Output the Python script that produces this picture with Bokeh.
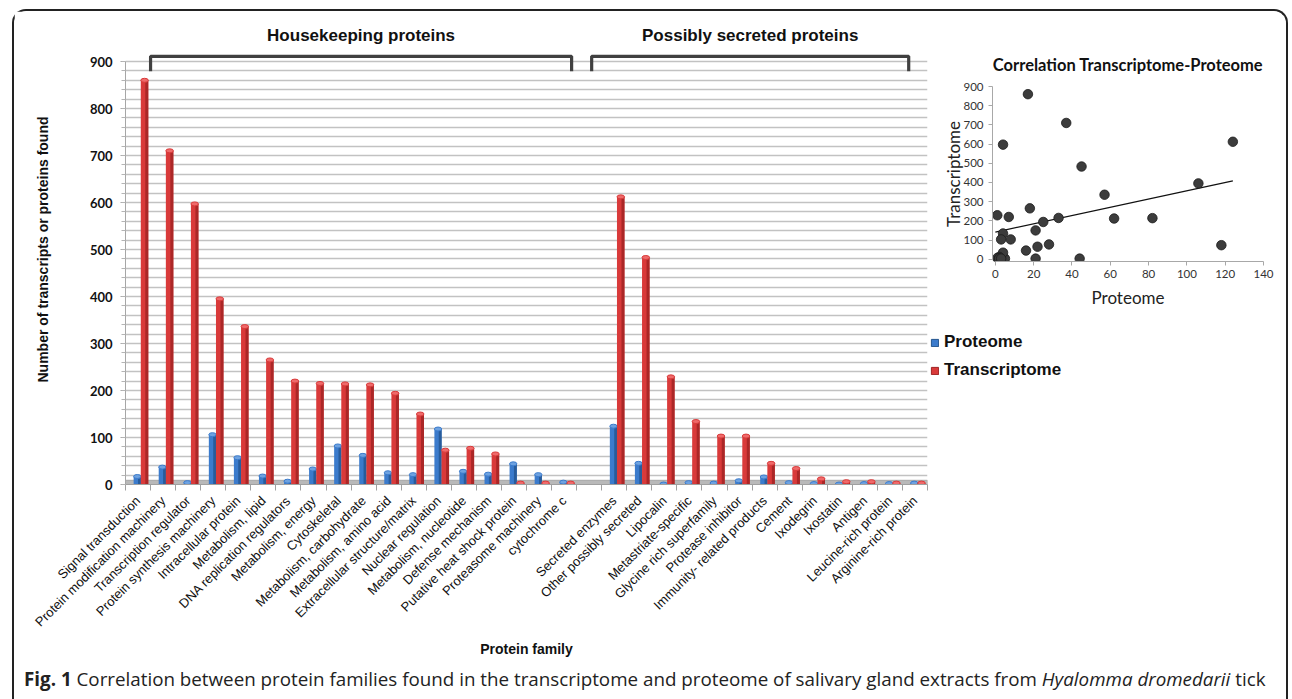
import numpy as np
from bokeh.plotting import figure
from bokeh.models import FixedTicker, Legend, LegendItem, Div, ColumnDataSource, Range1d
from bokeh.layouts import row, column
from bokeh.transform import dodge
from bokeh.embed import file_html
from bokeh.resources import INLINE
from bokeh.core.properties import value

# ---------------- data ----------------
housekeeping = [
    "Signal transduction", "Protein modification machinery", "Transcription regulator",
    "Protein synthesis machinery", "Intracellular protein", "Metabolism, lipid",
    "DNA replication regulators", "Metabolism, energy", "Cytoskeletal",
    "Metabolism, carbohydrate", "Metabolism, amino acid", "Extracellular structure/matrix",
    "Nuclear regulation", "Metabolism, nucleotide", "Defense mechanism",
    "Putative heat shock protein", "Proteasome machinery", "cytochrome c",
]
secreted = [
    "Secreted enzymes", "Other possibly secreted", "Lipocalin", "Metastriate-specific",
    "Glycine rich superfamily", "Protease inhibitor", "Immunity- related products",
    "Cement", "Ixodegrin", "Ixostatin", "Antigen", "Leucine-rich protein",
    "Arginine-rich protein",
]
proteome_hk = [17, 37, 4, 106, 57, 18, 7, 33, 82, 62, 25, 21, 118, 28, 22, 44, 21, 5]
transcriptome_hk = [860, 710, 597, 395, 336, 265, 220, 215, 214, 212, 194, 150, 73, 77, 65, 3, 3, 3]
proteome_sec = [124, 45, 1, 4, 3, 8, 16, 4, 2, 1, 2, 2, 3]
transcriptome_sec = [612, 483, 229, 134, 103, 103, 45, 34, 12, 6, 6, 3, 3]

group_titles = ["Housekeeping proteins", "Possibly secreted proteins"]
series_names = ["Proteome", "Transcriptome"]
bar_y_ticks = list(range(0, 901, 100))
bar_grid_ticks = list(range(0, 901, 20))
scatter_x_ticks = list(range(0, 141, 20))
scatter_y_ticks = list(range(0, 901, 100))

# ---------------- derived ----------------
n_hk = len(housekeeping)
n_sec = len(secreted)
positions = list(range(n_hk)) + list(range(n_hk + 1, n_hk + 1 + n_sec))
categories = housekeeping + secreted
proteome = proteome_hk + proteome_sec
transcriptome = transcriptome_hk + transcriptome_sec
n_slots = n_hk + 1 + n_sec

BLUE, BLUE_D, BLUE_L = "#3b7bcc", "#24558f", "#6ea2e0"
RED, RED_D, RED_L = "#d93a3a", "#9f2323", "#ef6a6a"
FONT = "Liberation Sans"

# ---------------- bar chart ----------------
p = figure(width=916, height=648, x_range=Range1d(-0.5, n_slots - 0.5), y_range=Range1d(0, 1000),
           output_backend="svg", toolbar_location=None,
           min_border_left=111, min_border_right=3, min_border_top=3, min_border_bottom=173)
p.outline_line_color = None
p.background_fill_color = "white"
p.xgrid.visible = False
p.ygrid[0].ticker = FixedTicker(ticks=bar_grid_ticks)
p.ygrid.grid_line_color = "#c2c2c2"
p.ygrid.grid_line_width = 1.5

p.yaxis.ticker = FixedTicker(ticks=bar_y_ticks, minor_ticks=bar_grid_ticks)
p.yaxis.bounds = (0, 900)
p.yaxis.axis_line_color = "#a6a6a6"
p.yaxis.major_tick_line_color = "#a6a6a6"
p.yaxis.minor_tick_line_color = "#b5b5b5"
p.yaxis.major_tick_out = 5
p.yaxis.major_tick_in = 0
p.yaxis.minor_tick_out = 4
p.yaxis.minor_tick_in = 0
p.yaxis.major_label_standoff = 8
p.yaxis.major_label_text_font = "Lato"
p.yaxis.major_label_text_font_style = "bold"
p.yaxis.major_label_text_font_size = "13px"
p.yaxis.major_label_text_color = "#111111"
p.yaxis.axis_label = "Number of transcripts or proteins found"
p.yaxis.axis_label_text_font = FONT
p.yaxis.axis_label_text_font_style = "bold"
p.yaxis.axis_label_text_font_size = "14px"
p.yaxis.axis_label_text_color = "#111111"
p.yaxis.axis_label_standoff = 36

boundaries = [b - 0.5 for b in range(n_slots + 1)]
p.xaxis.ticker = FixedTicker(ticks=positions, minor_ticks=boundaries)
p.xaxis.major_label_overrides = {pos: name for pos, name in zip(positions, categories)}
p.xaxis.major_label_orientation = np.pi / 4
p.xaxis.major_label_text_font = FONT
p.xaxis.major_label_text_font_size = "13px"
p.xaxis.major_label_text_color = "#111111"
p.xaxis.major_label_standoff = 8
p.xaxis.major_tick_out = 0
p.xaxis.major_tick_in = 0
p.xaxis.minor_tick_out = 6
p.xaxis.minor_tick_in = 0
p.xaxis.minor_tick_line_color = "#a0a0a0"
p.xaxis.axis_line_color = "#a0a0a0"
p.xaxis.axis_label = "Protein family"
p.xaxis.axis_label_text_font = FONT
p.xaxis.axis_label_text_font_style = "bold"
p.xaxis.axis_label_text_font_size = "14px"
p.xaxis.axis_label_text_color = "#111111"
p.xaxis.axis_label_standoff = 3

# floor
p.quad(left=[min(positions) - 0.5], right=[max(positions) + 0.5], bottom=[0], top=[9],
       fill_color="#b9b9b9", line_color="#9c9c9c", line_width=0.8)

src = ColumnDataSource(dict(x=positions, prot=proteome, trans=transcriptome))
bw, rw = 0.29, 0.30
bx, rx = -0.03, 0.26
# proteome bars
p.vbar(x=dodge("x", bx, range=p.x_range), top="prot", width=bw, source=src,
       fill_color=BLUE, line_color=None)
p.vbar(x=dodge("x", bx + bw * 0.3, range=p.x_range), top="prot", width=bw * 0.4, source=src,
       fill_color=BLUE_D, line_color=None, fill_alpha=0.8)
p.ellipse(x=dodge("x", bx, range=p.x_range), y="prot", width=bw, height=4, height_units="screen",
          source=src, fill_color=BLUE_L, line_color=BLUE)
# transcriptome bars
p.vbar(x=dodge("x", rx, range=p.x_range), top="trans", width=rw, source=src,
       fill_color=RED, line_color=None)
p.vbar(x=dodge("x", rx + rw * 0.3, range=p.x_range), top="trans", width=rw * 0.4, source=src,
       fill_color=RED_D, line_color=None, fill_alpha=0.8)
p.ellipse(x=dodge("x", rx, range=p.x_range), y="trans", width=rw, height=4, height_units="screen",
          source=src, fill_color=RED_L, line_color=RED)

# group brackets
group_spans = [(0.5, 17.3), (18.1, 30.75)]
for (x0, x1), title in zip(group_spans, group_titles):
    p.line(x=[x0, x0, x1, x1], y=[879, 911, 911, 879], line_color="#404040", line_width=3.2)
    p.text(x=[(x0 + x1) / 2], y=[956], text=[title], text_font=value(FONT),
           text_font_style="bold", text_font_size="17px", text_align="center",
           text_baseline="middle", text_color="#111111")

# ---------------- scatter ----------------
s = figure(width=347, height=299, x_range=Range1d(-1.5, 140), y_range=Range1d(-12, 900),
           output_backend="svg", toolbar_location=None,
           min_border_left=62, min_border_right=14, min_border_top=75, min_border_bottom=49,
           title="Correlation Transcriptome-Proteome")
s.outline_line_color = None
s.grid.visible = False
s.title.align = "center"
s.title.text_font = "Lato"
s.title.text_font_style = "bold"
s.title.text_font_size = "16.5px"
s.title.text_color = "#111111"
s.title.standoff = 23
for ax in (s.xaxis[0], s.yaxis[0]):
    ax.axis_line_color = "#a8a8a8"
    ax.major_tick_line_color = "#a8a8a8"
    ax.major_tick_out = 4
    ax.major_tick_in = 0
    ax.minor_tick_line_color = None
    ax.major_label_text_font = "Lato"
    ax.major_label_text_font_size = "11.5px"
    ax.major_label_text_color = "#333333"
    ax.axis_label_text_font = "Lato"
    ax.axis_label_text_font_style = "normal"
    ax.axis_label_text_font_size = "17px"
    ax.axis_label_text_color = "#222222"
s.xaxis.ticker = FixedTicker(ticks=scatter_x_ticks)
s.xaxis.bounds = (0, 140)
s.yaxis.ticker = FixedTicker(ticks=scatter_y_ticks)
s.yaxis.bounds = (0, 900)
s.xaxis.axis_label = "Proteome"
s.yaxis.axis_label = "Transcriptome"
s.xaxis.axis_label_standoff = 6
s.yaxis.axis_label_standoff = -4
s.xaxis.major_label_standoff = 4
s.yaxis.major_label_standoff = 5

slope, intercept = np.polyfit(np.array(proteome, float), np.array(transcriptome, float), 1)
xs = np.array([0.0, float(max(proteome))])
s.line(x=xs, y=slope * xs + intercept, line_color="#111111", line_width=1.3)
s.scatter(x=proteome, y=transcriptome, size=9.5, fill_color="#3c3c3c", line_color="#1c1c1c",
          line_width=0.8)

# ---------------- legend (own small canvas) ----------------
lg = figure(width=347, height=100, x_range=Range1d(0, 1), y_range=Range1d(0, 1),
            output_backend="svg", toolbar_location=None, min_border=0,
            x_axis_location=None, y_axis_location=None)
lg.outline_line_color = None
lg.grid.visible = False
r_p = lg.rect(x=[-5], y=[-5], width=0.1, height=0.1, fill_color=BLUE, line_color=BLUE_D)
r_t = lg.rect(x=[-5], y=[-5], width=0.1, height=0.1, fill_color=RED, line_color=RED_D)
legend = Legend(items=[LegendItem(label=series_names[0], renderers=[r_p]),
                       LegendItem(label=series_names[1], renderers=[r_t])],
                location=(0, 30), orientation="vertical", padding=0, margin=0, spacing=8,
                glyph_width=9, glyph_height=9, label_standoff=5, label_height=20,
                label_text_font=FONT, label_text_font_style="bold", label_text_font_size="17px",
                label_text_color="#111111", border_line_color=None, background_fill_alpha=0)
lg.add_layout(legend)

# ---------------- caption ----------------
caption = Div(
    text='<b>Fig. 1</b> Correlation between protein families found in the transcriptome and '
         'proteome of salivary gland extracts from <i>Hyalomma dromedarii</i> tick',
    width=1262, height=30,
    styles={"font-family": "Open Sans", "font-size": "18.8px", "color": "#222222",
            "padding-left": "5px", "padding-top": "2px", "white-space": "nowrap"})

layout = column(row(p, column(row(s), row(lg))), caption, margin=(9, 0, 0, 12),
                styles={"border": "2px solid #222222", "border-bottom": "none",
                        "border-radius": "14px 14px 0 0"})

open("out.html", "w").write(file_html(layout, INLINE))
